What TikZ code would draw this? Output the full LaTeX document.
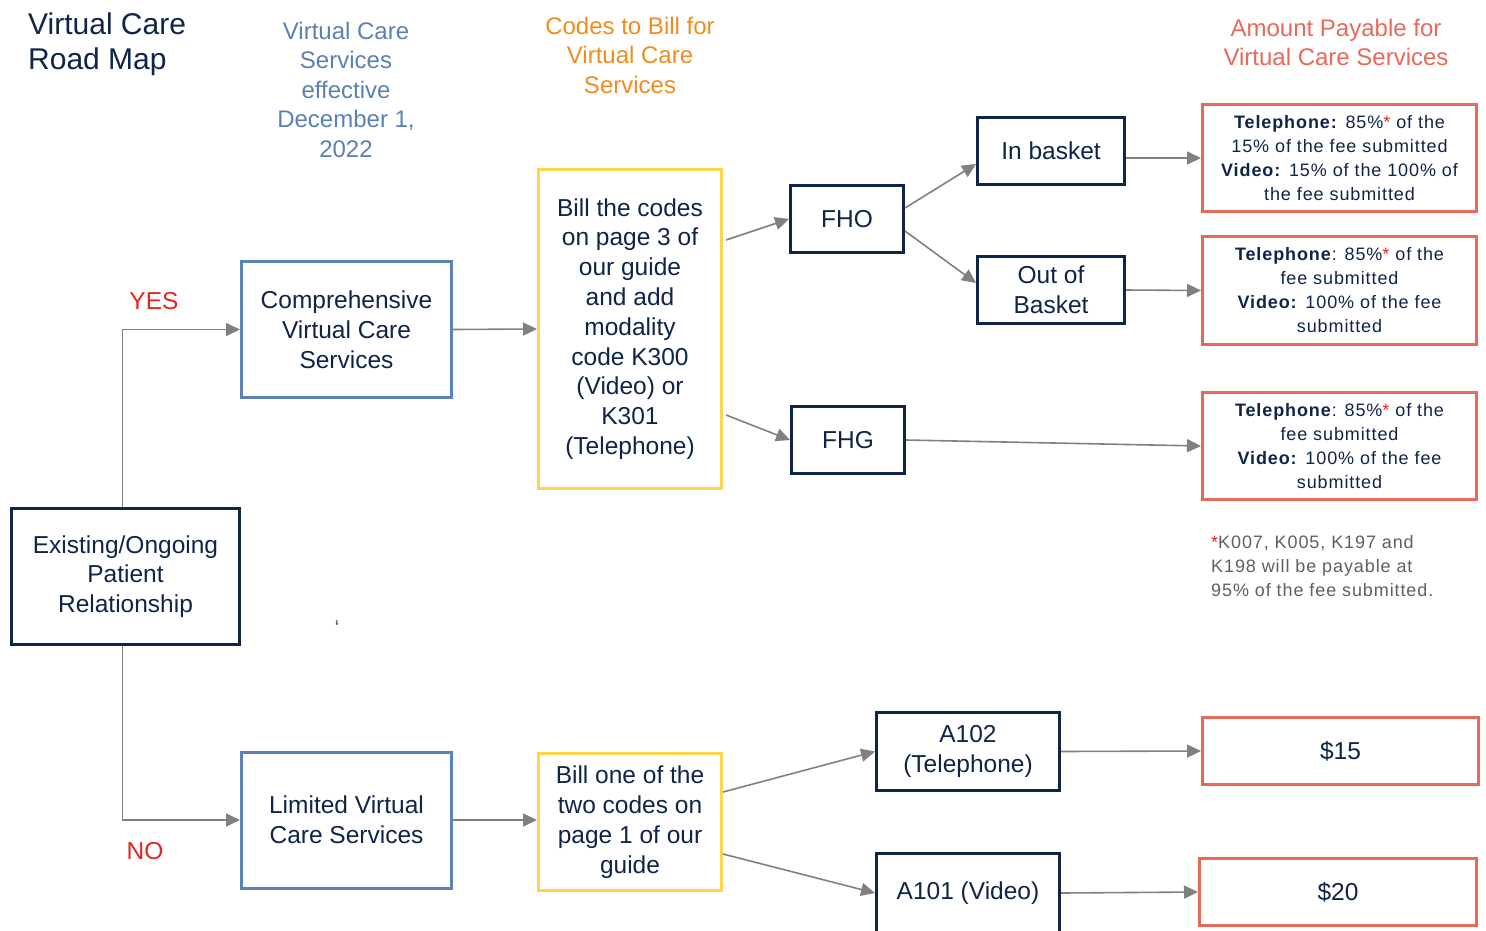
\documentclass[tikz,border=0pt]{standalone}
\usepackage{fontspec}
\setmainfont{Liberation Sans}
\newfontfamily\spacedfont[LetterSpace=5]{Liberation Sans}
\usetikzlibrary{arrows.meta,calc}
\definecolor{navy}{HTML}{0E2448}
\definecolor{boxblue}{HTML}{5B83B5}
\definecolor{boxyellow}{HTML}{FFD54F}
\definecolor{boxred}{HTML}{E8685A}
\definecolor{arrgray}{HTML}{808080}
\definecolor{headblue}{HTML}{5B80B3}
\definecolor{headorange}{HTML}{F08C1E}
\definecolor{headred}{HTML}{E8685A}
\definecolor{yesred}{HTML}{E2261D}
\definecolor{notegray}{HTML}{5F5F5F}
\newcommand{\redstar}{{\color{yesred}*}}

\begin{document}
\begin{tikzpicture}[x=1pt,y=-1pt,
  every node/.style={text=navy,font=\fontsize{24.5}{29.8}\selectfont,align=center,inner sep=0pt},
  box/.style={draw,line width=3pt},
  navybox/.style={box,draw=navy},
  bluebox/.style={box,draw=boxblue},
  yellowbox/.style={box,draw=boxyellow},
  redbox/.style={box,draw=boxred},
  paytext/.style={font=\spacedfont\fontsize{18}{24}\selectfont},
  head/.style={font=\fontsize{24}{29.5}\selectfont},
  arr/.style={draw=arrgray,line width=1.6pt,-{Triangle[length=14pt,width=13pt]}}]
\useasboundingbox (0,0) rectangle (1486,930);

\node[anchor=west,align=left,font=\fontsize{30}{35}\selectfont] (title) at (28,44.5) {Virtual Care\\Road Map};
\node[head,text=headblue] (headserv) at (346,89.5) {Virtual Care\\Services\\effective\\December 1,\\2022};
\node[head,text=headorange] (headcode) at (630,55) {Codes to Bill for\\Virtual Care\\Services};
\node[head,text=headred] (headpay) at (1336,42.5) {Amount Payable for\\Virtual Care Services};

\node[navybox,minimum width=228,minimum height=136] (exist) at (125.5,576.5) {Existing/Ongoing\\Patient\\Relationship};
\node[bluebox,minimum width=210,minimum height=136] (comp) at (346.5,329.5) {Comprehensive\\Virtual Care\\Services};
\node[bluebox,minimum width=210,minimum height=136] (lim) at (346.5,820) {Limited Virtual\\Care Services};
\node[yellowbox,minimum width=183,minimum height=319] (billc) at (630,329) {Bill the codes\\on page 3 of\\our guide\\and add\\modality\\code K300\\(Video) or\\K301\\(Telephone)};
\node[yellowbox,minimum width=183,minimum height=137] (billo) at (630,822) {Bill one of the\\two codes on\\page 1 of our\\guide};

\node[navybox,minimum width=113,minimum height=67] (fho) at (847,219) {FHO};
\node[navybox,minimum width=113,minimum height=67] (fhg) at (848,440) {FHG};
\node[navybox,minimum width=147,minimum height=67] (inb) at (1051,151) {In basket};
\node[navybox,minimum width=147,minimum height=67] (outb) at (1051,290) {Out of\\Basket};
\node[navybox,minimum width=183,minimum height=78] (a102) at (968,751.5) {A102\\(Telephone)};
\node[navybox,minimum width=183,minimum height=79] (a101) at (968,893) {A101 (Video)};

\node[redbox,paytext,minimum width=274,minimum height=107] (pay1) at (1339.5,158) {\textbf{Telephone:} 85\%\redstar{} of the\\15\% of the fee submitted\\\textbf{Video:} 15\% of the 100\% of\\the fee submitted};
\node[redbox,paytext,minimum width=274,minimum height=108] (pay2) at (1339.5,290.5) {\textbf{Telephone}: 85\%\redstar{} of the\\fee submitted\\\textbf{Video:} 100\% of the fee\\submitted};
\node[redbox,paytext,minimum width=274,minimum height=107] (pay3) at (1339.5,446) {\textbf{Telephone}: 85\%\redstar{} of the\\fee submitted\\\textbf{Video:} 100\% of the fee\\submitted};
\node[redbox,minimum width=276,minimum height=67] (pay15) at (1340.5,751) {\$15};
\node[redbox,minimum width=277,minimum height=67] (pay20) at (1338,892) {\$20};

\node[paytext,text=notegray,anchor=west,align=left] (note) at (1211,566) {\redstar K007, K005, K197 and\\K198 will be payable at\\95\% of the fee submitted.};

\node[text=yesred] (yes) at (154,301) {YES};
\node[text=yesred] (no) at (145,851) {NO};
\node[text=notegray,font=\fontsize{22}{22}\selectfont] (tick) at (337,628) {`};

\draw[arr] ([xshift=-3pt]exist.north) |- (comp.west);
\draw[arr] ([xshift=-3pt]exist.south) |- (lim.west);
\draw[arr] (comp.east) -- (billc.west);
\draw[arr] (lim.east) -- (billo.west |- lim.east);
\draw[arr] ([xshift=3pt,yshift=89pt]billc.east) -- (fho.west);
\draw[arr] ([xshift=3pt,yshift=-86pt]billc.east) -- (fhg.west);
\draw[arr] ([yshift=11pt]fho.east) -- ([yshift=-13pt]inb.west);
\draw[arr] ([yshift=-12pt]fho.east) -- ([yshift=7pt]outb.west);
\draw[arr] (inb.east |- pay1.west) -- (pay1.west);
\draw[arr] (outb.east) -- (pay2.west);
\draw[arr] (fhg.east) -- (pay3.west);
\draw[arr] ([yshift=30pt]billo.east) -- (a102.west);
\draw[arr] ([yshift=-32pt]billo.east) -- (a101.west);
\draw[arr] (a102.east) -- (pay15.west);
\draw[arr] (a101.east) -- (pay20.west);
\end{tikzpicture}
\end{document}
